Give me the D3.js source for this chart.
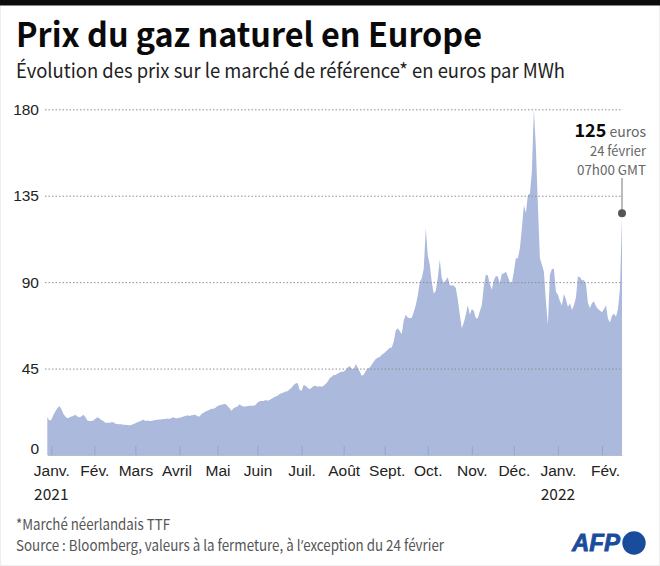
<!DOCTYPE html>
<html lang="fr">
<head>
  <meta charset="UTF-8" />
  <title>Prix du gaz naturel en Europe</title>
  <script src="https://d3js.org/d3.v7.min.js"></script>
  <style>
    /* the CJK font draws the curly quote full width, so take that one glyph elsewhere */
    @font-face { font-family: "Quote"; src: local("Noto Sans"), local("NotoSans-Regular"); unicode-range: U+2019; }
    body { margin: 0; background: #fff; }
    svg { display: block; font-family: "Quote", "Noto Sans CJK SC", "Noto Sans", sans-serif; }
    .axis text { font-size: 15.5px; fill: #222; }
    .note { font-size: 15px; fill: #555; }
    .callout { font-size: 13.5px; fill: #666; text-anchor: end; }
  </style>
</head>
<body>
  <svg width="660" height="566"></svg>

  <script>
    // TTF price in euros per MWh, one reading per session
    const prices = [
      19.6, 17.9, 18.2, 20.8, 22.6, 24.3, 25.5, 24, 21.5, 20, 19.1, 19.5, 20, 20.3, 21, 20, 19.6, 20, 21, 19.8,
      18, 17.7, 17.7, 18, 18.9, 19.6, 19.1, 18.2, 17.7, 16.8, 16.8, 16.8, 17, 17, 16.3, 16.1, 16, 16, 15.8, 15.7,
      15.6, 15.5, 15.6, 16.1, 16.5, 17, 17.5, 18, 18.4, 17.7, 18, 17.7, 17.7, 18, 18.2, 18.4, 18.5, 18.5, 18.8, 18.8,
      19, 18.8, 19.3, 19.6, 19.1, 19.1, 19.4, 19.6, 20, 20.3, 20.7, 20.3, 20.7, 20.8, 21, 20.2, 20.1, 21.4, 22, 22.7,
      23, 23.6, 24.1, 24.1, 24.6, 25.5, 25.9, 26.2, 26.4, 26.6, 25.5, 24.3, 23.1, 24.3, 24.8, 25.2, 26.4, 25.7, 25.2, 25.3,
      25.5, 25.6, 25.6, 25.6, 26, 27.3, 28, 28.1, 28.1, 28.6, 28.3, 28.6, 29.3, 29.9, 30.4, 30.9, 31.8, 32.1, 32.6, 33,
      33.2, 34.2, 35, 36.5, 37.2, 37.5, 34, 33.5, 36.5, 36, 35, 34.2, 35, 35.9, 36, 35.6, 35.8, 35.6, 36, 37,
      38.2, 40, 40.8, 41.7, 41.7, 42.5, 42.9, 43.4, 43.5, 44.3, 45.5, 46.4, 45, 44.5, 47.4, 45.5, 43.5, 41.3, 41.8, 43.8,
      44.9, 45.5, 47, 48.5, 50, 50.7, 51, 52.2, 52.8, 53.7, 54.8, 55.8, 56, 59, 64.8, 66, 64.5, 63, 70, 73,
      71.6, 71.2, 71.5, 74.5, 78, 83, 90, 92, 97, 118, 104, 99, 90, 84, 85.5, 92, 101.6, 92, 89.6, 91,
      92.5, 88.4, 88.2, 88.2, 87, 81, 73, 66, 69, 73, 78, 73, 76, 75, 71.2, 71.2, 74.8, 78, 88, 94,
      93.5, 89, 86, 91, 93.2, 93, 89.4, 94.4, 94.5, 95.5, 93, 90, 89.4, 95.5, 102.4, 102.4, 107.6, 118, 130, 126,
      135.4, 136, 147.6, 180, 159.7, 130, 102.4, 99, 95.5, 80, 67.7, 93.8, 96.9, 97, 85, 83.5, 80, 78, 84, 81,
      77, 79, 75.5, 78, 82, 93, 92.5, 91, 91, 89, 79, 76.5, 79, 80, 77.5, 76, 75.3, 74.3, 76, 78,
      71, 69, 72.5, 73.5, 72, 76, 87, 125
    ];
    const monthLabels = ["Janv.", "Fév.", "Mars", "Avril", "Mai", "Juin", "Juil.", "Août", "Sept.", "Oct.", "Nov.", "Déc.", "Janv.", "Fév."];
    // session index where each month starts
    const monthStarts = [2, 23.5, 44, 66, 85, 105, 127, 148, 168.5, 190, 212, 233, 255, 277];
    const yearLabels = [{ month: 0, text: "2021" }, { month: 12, text: "2022" }];
    const yTicks = [0, 45, 90, 135, 180];

    const svg = d3.select("svg");
    const x = d3.scaleLinear().domain([0, prices.length - 1]).range([47.3, 622]);
    const y = d3.scaleLinear().domain([0, 180]).range([455, 109.3]);

    // the installed font runs wider than the original, so squeeze to the same width
    function fit(sel, len) {
      return sel.attr("textLength", len).attr("lengthAdjust", "spacingAndGlyphs");
    }

    svg.append("rect").attr("x", 0.5).attr("y", 0.5).attr("width", 659).attr("height", 565)
      .attr("fill", "none").attr("stroke", "#eeeeee");
    svg.append("rect").attr("width", 660).attr("height", 5.5).attr("fill", "#0c0c0c");

    svg.append("text").attr("x", 16).attr("y", 46.5)
      .attr("font-size", 33).attr("font-weight", 700).attr("fill", "#0a0a0a")
      .text("Prix du gaz naturel en Europe")
      .call(fit, 466);
    svg.append("text").attr("x", 16).attr("y", 77.5)
      .attr("font-size", 20).attr("fill", "#222")
      .text("Évolution des prix sur le marché de référence* en euros par MWh")
      .call(fit, 549);

    const area = d3.area()
      .x((d, i) => x(i))
      .y0(y(0))
      .y1(d => y(d));
    svg.append("path").datum(prices).attr("d", area).attr("fill", "#abb9dd");

    // y axis, ticks stretched across as dotted gridlines
    const yAxis = svg.append("g").attr("class", "axis")
      .attr("transform", "translate(45,0)")
      .call(d3.axisLeft(y).tickValues(yTicks).tickSize(-577.7).tickPadding(6));
    yAxis.select(".domain").remove();
    yAxis.selectAll(".tick line")
      .attr("stroke", "#8f8f8f").attr("stroke-dasharray", "1.5,2");
    yAxis.selectAll(".tick").filter(d => d === 0).select("line").remove();
    yAxis.selectAll(".tick").filter(d => d === 0).select("text").attr("y", -6);

    // x axis, ticks point up into the area
    const xAxis = svg.append("g").attr("class", "axis")
      .attr("transform", `translate(0,${y(0)})`)
      .call(d3.axisBottom(x)
        .tickValues(monthStarts)
        .tickFormat((d, i) => monthLabels[i])
        .tickSizeInner(-9).tickSizeOuter(0).tickPadding(10));
    xAxis.select(".domain").attr("stroke", "#b4bccf").attr("stroke-width", 1.2);
    xAxis.selectAll(".tick line").attr("stroke", "#97a5ca");
    xAxis.selectAll(".tick text").attr("y", 7).attr("dy", "0.9em");
    // a few labels sit off their tick in the original
    xAxis.selectAll(".tick text").filter((d, i) => i === 3).attr("x", -3);
    xAxis.selectAll(".tick text").filter((d, i) => i === 8).attr("x", 2);
    xAxis.selectAll(".tick text").filter((d, i) => i === monthLabels.length - 1).attr("x", 3);

    svg.selectAll(".year").data(yearLabels).join("text")
      .attr("class", "year")
      .attr("x", d => x(monthStarts[d.month]))
      .attr("y", 500)
      .attr("text-anchor", "middle")
      .attr("font-size", 15.5).attr("fill", "#222")
      .text(d => d.text);

    // callout on the last value
    const lastX = x(prices.length - 1);
    const lastY = y(prices[prices.length - 1]) - 1.7;
    svg.append("line").attr("x1", lastX).attr("x2", lastX).attr("y1", 178).attr("y2", lastY)
      .attr("stroke", "#777");
    svg.append("circle").attr("cx", lastX).attr("cy", lastY).attr("r", 4).attr("fill", "#555");

    const head = svg.append("text").attr("class", "callout").attr("x", 646).attr("y", 137);
    head.append("tspan").attr("font-size", 18).attr("font-weight", 700).attr("fill", "#0a0a0a").text("125");
    head.append("tspan").attr("font-size", 14).text(" euros");
    svg.append("text").attr("class", "callout").attr("x", 646).attr("y", 155.5).text("24 février").call(fit, 56);
    svg.append("text").attr("class", "callout").attr("x", 646).attr("y", 174.5).text("07h00 GMT").call(fit, 69);

    svg.append("text").attr("class", "note").attr("x", 16).attr("y", 530)
      .text("*Marché néerlandais TTF").call(fit, 154);
    svg.append("text").attr("class", "note").attr("x", 16).attr("y", 551)
      .text("Source : Bloomberg, valeurs à la fermeture, à l’exception du 24 février").call(fit, 428);

    // AFP mark
    svg.append("text").attr("x", 572).attr("y", 551)
      .attr("font-family", "Liberation Sans").attr("font-size", 24)
      .attr("font-weight", 700).attr("font-style", "italic")
      .attr("fill", "#1a4c9c").attr("stroke", "#1a4c9c").attr("stroke-width", 0.8)
      .text("AFP");
    svg.append("circle").attr("cx", 634).attr("cy", 543).attr("r", 11.7).attr("fill", "#1a4c9c");
  </script>
</body>
</html>
